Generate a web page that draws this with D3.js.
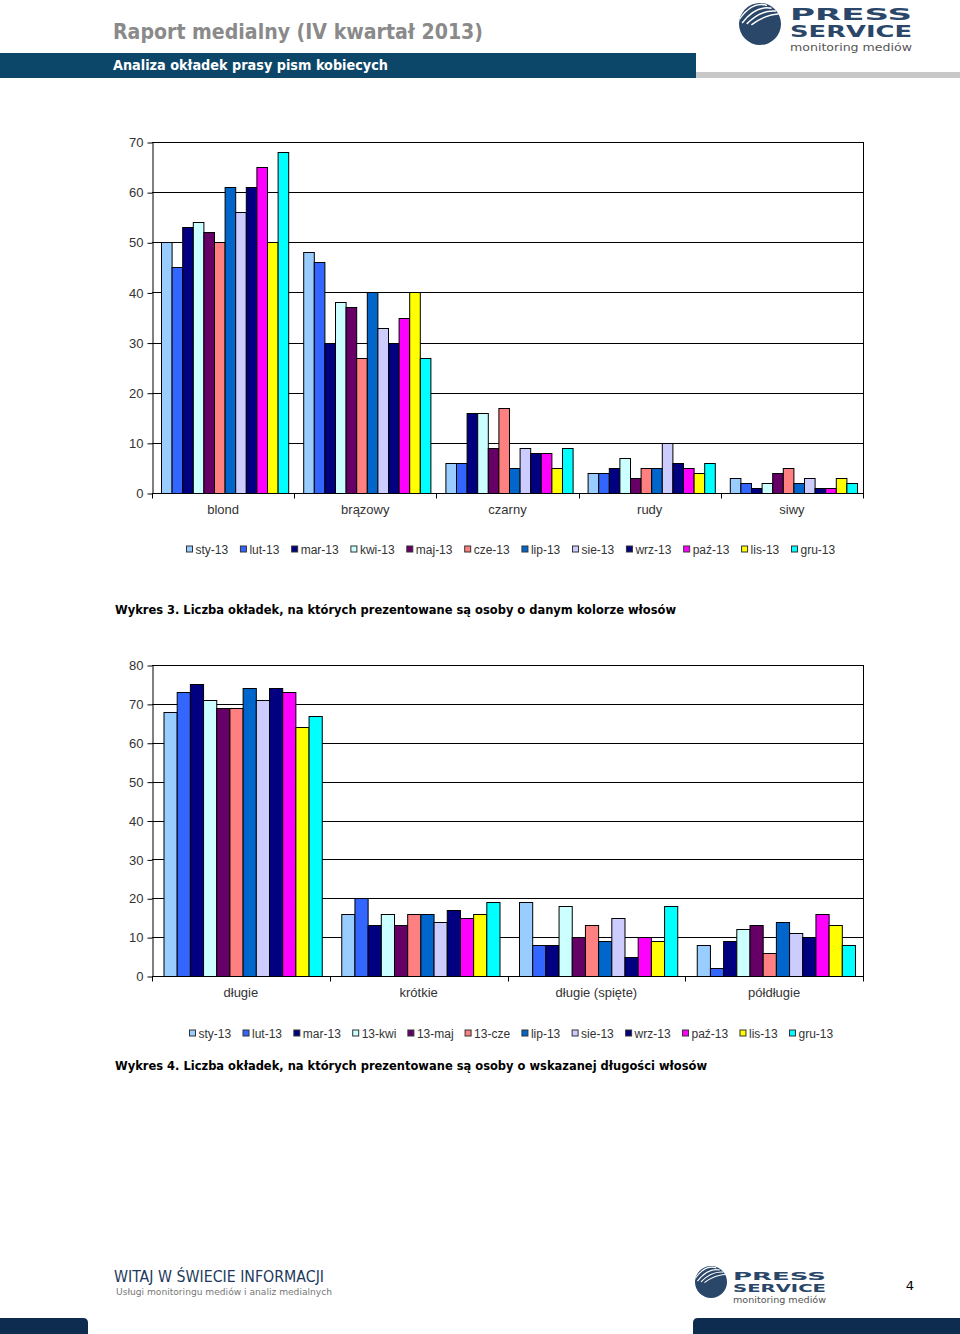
<!DOCTYPE html>
<html><head><meta charset="utf-8">
<script src="https://cdn.jsdelivr.net/npm/d3@7"></script>
<style>html,body{margin:0;padding:0;background:#fff;}svg{display:block;}</style>
</head><body>
<script>
// ---------- DATA ----------
const seriesColors = ["#99CCFF","#3366FF","#000080","#CCFFFF","#660066","#FF8080","#0066CC","#CCCCFF","#000080","#FF00FF","#FFFF00","#00FFFF"];

const chart1Categories = ["blond","brązowy","czarny","rudy","siwy"];
const chart1Series = ["sty-13","lut-13","mar-13","kwi-13","maj-13","cze-13","lip-13","sie-13","wrz-13","paź-13","lis-13","gru-13"];
const chart1Blond   = [50,45,53,54,52,50,61,56,61,65,50,68];
const chart1Brazowy = [48,46,30,38,37,27,40,33,30,35,40,27];
const chart1Czarny  = [6,6,16,16,9,17,5,9,8,8,5,9];
const chart1Rudy    = [4,4,5,7,3,5,5,10,6,5,4,6];
const chart1Siwy    = [3,2,1,2,4,5,2,3,1,1,3,2];
const chart1Ticks   = [0,10,20,30,40,50,60,70];

const chart2Categories = ["długie","krótkie","długie (spięte)","półdługie"];
const chart2Series = ["sty-13","lut-13","mar-13","13-kwi","13-maj","13-cze","lip-13","sie-13","wrz-13","paź-13","lis-13","gru-13"];
const chart2Dlugie   = [68,73,75,71,69,69,74,71,74,73,64,67];
const chart2Krotkie  = [16,20,13,16,13,16,16,14,17,15,16,19];
const chart2Spiete   = [19,8,8,18,10,13,9,15,5,10,9,18];
const chart2Poldlugie = [8,2,9,12,13,6,14,11,10,16,13,8];
const chart2Ticks    = [0,10,20,30,40,50,60,70,80];

const svg = d3.select("body").append("svg").attr("width",960).attr("height",1334);

// ---------- HEADER ----------
svg.append("text").attr("x",113).attr("y",39).attr("font-family","'DejaVu Sans Condensed','DejaVu Sans',sans-serif")
  .attr("font-weight","bold").attr("font-size",21).attr("fill","#8a8a8a")
  .attr("textLength",370).attr("lengthAdjust","spacingAndGlyphs").text("Raport medialny (IV kwartał 2013)");
svg.append("rect").attr("x",0).attr("y",53).attr("width",696).attr("height",25).attr("fill","#0c4669");
svg.append("rect").attr("x",696).attr("y",72).attr("width",264).attr("height",6).attr("fill","#c8c8c8");
svg.append("text").attr("x",113).attr("y",70).attr("font-family","'DejaVu Sans Condensed','DejaVu Sans',sans-serif")
  .attr("font-weight","bold").attr("font-size",14).attr("fill","#ffffff")
  .attr("textLength",275).attr("lengthAdjust","spacingAndGlyphs").text("Analiza okładek prasy pism kobiecych");

function logo(cx, cy, r, tx, tw, yP, hP, yS, hS, yM, hM, id){
  const g = svg.append("g");
  const clip = svg.append("clipPath").attr("id",id);
  clip.append("circle").attr("cx",cx).attr("cy",cy).attr("r",r);
  g.append("circle").attr("cx",cx).attr("cy",cy).attr("r",r).attr("fill","#2a4668");
  const sg = g.append("g").attr("clip-path",`url(#${id})`);
  for(let i=-3;i<=2;i++){
    const off = i*r*0.22;
    sg.append("path")
      .attr("d",`M${cx-r*0.85+off},${cy-r*0.05+off*0.2} Q${cx-r*0.2+off},${cy-r*0.9+off} ${cx+r*0.55+off},${cy-r*0.75+off*0.6}`)
      .attr("fill","none").attr("stroke","#fff").attr("stroke-width",r*0.07);
  }
  g.append("text").attr("x",tx).attr("y",yP).attr("font-family","'DejaVu Sans',sans-serif").attr("font-weight","bold")
    .attr("font-size",hP).attr("fill","#2a4668").attr("textLength",tw).attr("lengthAdjust","spacingAndGlyphs").text("PRESS");
  g.append("text").attr("x",tx).attr("y",yS).attr("font-family","'DejaVu Sans',sans-serif").attr("font-weight","bold")
    .attr("font-size",hS).attr("fill","#2a4668").attr("textLength",tw).attr("lengthAdjust","spacingAndGlyphs").text("SERVICE");
  g.append("text").attr("x",tx).attr("y",yM).attr("font-family","'DejaVu Sans',sans-serif")
    .attr("font-size",hM).attr("fill","#555").attr("textLength",tw).attr("lengthAdjust","spacingAndGlyphs").text("monitoring mediów");
}
logo(760,24,21,790,122,19.5,15,37,15,51,11,"lc1");

// ---------- CHART FUNCTION ----------
function drawChart(o){
  const {left,right,top,bottom,max,ticks,categories,series,values,inner} = o;
  const g = svg.append("g");
  const y = d3.scaleLinear().domain([0,max]).range([bottom,top]);
  const x0 = d3.scaleBand().domain(categories).range([left,right]).padding(0);
  const bw = x0.bandwidth();
  const x1 = d3.scaleBand().domain(series).range([inner[0], bw-inner[1]]).padding(0);

  // gridlines
  g.append("g").selectAll("line").data(ticks.filter(t=>t>0)).join("line")
    .attr("x1",left).attr("x2",right).attr("y1",d=>Math.round(y(d))+0.5).attr("y2",d=>Math.round(y(d))+0.5)
    .attr("stroke","#000").attr("stroke-width",1);
  // right border
  g.append("line").attr("x1",right+0.5).attr("x2",right+0.5).attr("y1",top).attr("y2",bottom).attr("stroke","#000");

  // bars
  const groups = g.append("g").selectAll("g").data(categories).join("g")
    .attr("transform",d=>`translate(${x0(d)},0)`);
  groups.selectAll("rect").data((d,ci)=>series.map((s,si)=>({s,si,v:values[ci][si]}))).join("rect")
    .attr("x",d=>x1(d.s)+0.5).attr("width",x1.bandwidth())
    .attr("y",d=>Math.round(y(d.v))+0.5).attr("height",d=>Math.round(y(0))-Math.round(y(d.v)))
    .attr("fill",d=>seriesColors[d.si]).attr("stroke","#000").attr("stroke-width",1);

  // y axis
  const ya = g.append("g").attr("transform",`translate(${left+0.5},0.5)`)
    .call(d3.axisLeft(y).tickValues(ticks).tickSize(5).tickSizeOuter(0).tickFormat(d3.format("d")));
  ya.select(".domain").attr("stroke","#000");
  ya.selectAll(".tick line").attr("stroke","#000");
  ya.selectAll(".tick text").attr("font-family","'Liberation Sans',Arial,sans-serif").attr("font-size",13).attr("fill","#333").attr("x",-9);

  // x axis
  const xa = g.append("g").attr("transform",`translate(0,${Math.round(bottom)+0.5})`);
  xa.append("line").attr("x1",left).attr("x2",right+1).attr("stroke","#000");
  const bounds = categories.map(c=>x0(c)).concat([right]);
  xa.selectAll("line.tk").data(bounds).join("line").attr("class","tk")
    .attr("x1",d=>Math.round(d)+0.5).attr("x2",d=>Math.round(d)+0.5).attr("y1",0).attr("y2",5).attr("stroke","#000");
  xa.selectAll("text").data(categories).join("text")
    .attr("x",d=>x0(d)+bw/2).attr("y",20).attr("text-anchor","middle")
    .attr("font-family","'Liberation Sans',Arial,sans-serif").attr("font-size",13).attr("fill","#333").text(d=>d);

  // legend
  const lg = g.append("g");
  const items = lg.selectAll("g").data(series).join("g");
  items.append("rect").attr("width",6).attr("height",6).attr("y",-7.5)
    .attr("fill",(d,i)=>seriesColors[i]).attr("stroke","#333").attr("stroke-width",1);
  items.append("text").attr("x",9).attr("y",0)
    .attr("font-family","'Liberation Sans',Arial,sans-serif").attr("font-size",12).attr("fill","#333").text(d=>d);
  const widths = items.nodes().map(n=>n.getBBox().width);
  const total = o.legendX[1]-o.legendX[0];
  const gap = (total - d3.sum(widths))/(series.length-1);
  let cx = o.legendX[0];
  items.each(function(d,i){ d3.select(this).attr("transform",`translate(${cx+0.5},${o.legendY+0.5})`); cx += widths[i]+gap; });

  // caption
  g.append("text").attr("x",115).attr("y",o.captionY).attr("font-family","'DejaVu Sans',sans-serif")
    .attr("font-weight","bold").attr("font-size",13).attr("fill","#000")
    .attr("textLength",o.captionW).attr("lengthAdjust","spacingAndGlyphs").text(o.caption);
}

drawChart({left:152,right:863,top:142,bottom:493,max:70,ticks:chart1Ticks,
  categories:chart1Categories,series:chart1Series,
  values:[chart1Blond,chart1Brazowy,chart1Czarny,chart1Rudy,chart1Siwy],
  inner:[9,6],legendX:[186,835],legendY:553,
  caption:"Wykres 3. Liczba okładek, na których prezentowane są osoby o danym kolorze włosów",
  captionY:614,captionW:561});

drawChart({left:152,right:863,top:665,bottom:976,max:80,ticks:chart2Ticks,
  categories:chart2Categories,series:chart2Series,
  values:[chart2Dlugie,chart2Krotkie,chart2Spiete,chart2Poldlugie],
  inner:[11.5,8],legendX:[189,833],legendY:1037,
  caption:"Wykres 4. Liczba okładek, na których prezentowane są osoby o wskazanej długości włosów",
  captionY:1070,captionW:592});

// ---------- FOOTER ----------
svg.append("text").attr("x",114).attr("y",1282).attr("font-family","'DejaVu Sans Condensed','DejaVu Sans',sans-serif")
  .attr("font-size",15).attr("fill","#1d3a5c").attr("textLength",210).attr("lengthAdjust","spacingAndGlyphs").text("WITAJ W ŚWIECIE INFORMACJI");
svg.append("text").attr("x",116).attr("y",1294.5).attr("font-family","'DejaVu Sans Condensed','DejaVu Sans',sans-serif")
  .attr("font-size",9).attr("fill","#777").attr("textLength",216).attr("lengthAdjust","spacingAndGlyphs").text("Usługi monitoringu mediów i analiz medialnych");
logo(711,1282,16,733,93,1279.5,10.5,1292,10.5,1302.5,8,"lc2");
svg.append("text").attr("x",910).attr("y",1290).attr("text-anchor","middle").attr("font-family","'DejaVu Sans',sans-serif")
  .attr("font-size",13).attr("fill","#000").text("4");
svg.append("path").attr("d","M0,1318 H83 Q88,1318 88,1323 V1334 H0 Z").attr("fill","#0e2b50");
svg.append("path").attr("d","M960,1318 H698 Q693,1318 693,1323 V1334 H960 Z").attr("fill","#0e2b50");
</script>
</body></html>
